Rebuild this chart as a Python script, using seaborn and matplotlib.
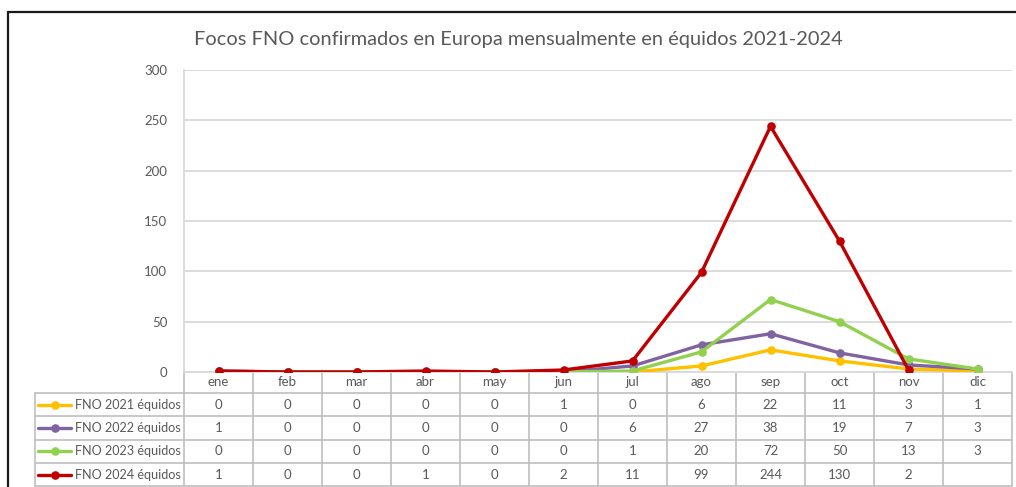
"""
Focos FNO confirmados en Europa mensualmente en équidos 2021-2024.
"""

import matplotlib

matplotlib.use("Agg")

import matplotlib.pyplot as plt
import numpy as np
import pandas as pd
import seaborn as sns
from matplotlib.lines import Line2D

MONTHS = ["ene", "feb", "mar", "abr", "may", "jun", "jul", "ago", "sep", "oct", "nov", "dic"]
SERIES = ["FNO 2021 équidos", "FNO 2022 équidos", "FNO 2023 équidos", "FNO 2024 équidos"]
FNO_2021 = [0, 0, 0, 0, 0, 1, 0, 6, 22, 11, 3, 1]
FNO_2022 = [1, 0, 0, 0, 0, 0, 6, 27, 38, 19, 7, 3]
FNO_2023 = [0, 0, 0, 0, 0, 0, 1, 20, 72, 50, 13, 3]
FNO_2024 = [1, 0, 0, 1, 0, 2, 11, 99, 244, 130, 2, np.nan]
COLORS = ["#FFC000", "#8064A2", "#92D050", "#C00000"]
Y_TICKS = [0, 50, 100, 150, 200, 250, 300]
TITLE = "Focos FNO confirmados en Europa mensualmente en équidos 2021-2024"

TEXT_COLOR = "#595959"
GRID_COLOR = "#D9D9D9"
TABLE_COLOR = "#BFBFBF"

sns.set_theme(style="white")
plt.rcParams["font.family"] = ["Lato", "DejaVu Sans"]

values = [FNO_2021, FNO_2022, FNO_2023, FNO_2024]
df = pd.DataFrame(
    {
        "mes": np.tile(np.arange(len(MONTHS)), len(SERIES)),
        "serie": np.repeat(SERIES, len(MONTHS)),
        "focos": np.concatenate([np.asarray(v, dtype=float) for v in values]),
    }
)

W, H = 1016, 487
fig = plt.figure(figsize=(W / 100, H / 100), dpi=100)
fig.patch.set_facecolor("white")

# plot area in pixels
px_left, px_right, px_top, px_bottom = 184, 1012, 70, 372
ax = fig.add_axes([px_left / W, 1 - px_bottom / H, (px_right - px_left) / W, (px_bottom - px_top) / H])

sns.lineplot(
    data=df.dropna(),
    x="mes",
    y="focos",
    hue="serie",
    hue_order=SERIES,
    palette=COLORS,
    marker="o",
    markersize=6.2,
    markeredgewidth=0,
    linewidth=2.4,
    sort=False,
    legend=False,
    ax=ax,
    zorder=3,
)

ax.set_xlim(-0.5, len(MONTHS) - 0.5)
ax.set_ylim(0, 300)
ax.set_yticks(Y_TICKS)
ax.set_yticklabels([str(t) for t in Y_TICKS])
ax.set_xticks(range(len(MONTHS)))
ax.set_xticklabels(MONTHS)
ax.tick_params(axis="y", length=0, pad=12, labelsize=9.5, labelcolor=TEXT_COLOR)
ax.tick_params(axis="x", length=0, pad=3, labelsize=9.5, labelcolor=TEXT_COLOR)
ax.set_xlabel("")
ax.set_ylabel("")
ax.yaxis.grid(True, color=GRID_COLOR, linewidth=1.3)
ax.set_axisbelow(True)
for side in ["top", "right"]:
    ax.spines[side].set_visible(False)
for side in ["left", "bottom"]:
    ax.spines[side].set_color(GRID_COLOR)
    ax.spines[side].set_linewidth(1.3)

# overlay in pixel coordinates for the data table and frame
ov = fig.add_axes([0, 0, 1, 1], zorder=-1)
ov.set_xlim(0, W)
ov.set_ylim(H, 0)
ov.axis("off")

col_w = (px_right - px_left) / len(MONTHS)
row_top = 393
row_h = 23.3
table_left = 35
table_bottom = row_top + row_h * len(SERIES)

for k in range(len(MONTHS) + 1):
    x = px_left + k * col_w
    ov.plot([x, x], [px_bottom, table_bottom], color=TABLE_COLOR, linewidth=1.2)
ov.plot([table_left, table_left], [row_top, table_bottom], color=TABLE_COLOR, linewidth=1.2)
for r in range(len(SERIES) + 1):
    y = row_top + r * row_h
    ov.plot([table_left, px_right], [y, y], color=TABLE_COLOR, linewidth=1.2)

for r, (name, vals, color) in enumerate(zip(SERIES, values, COLORS)):
    yc = row_top + (r + 0.5) * row_h
    ov.add_line(Line2D([38, 71], [yc, yc], color=color, linewidth=2.4))
    ov.plot([55], [yc], marker="o", markersize=6.2, color=color, markeredgewidth=0)
    ov.text(181, yc, name, ha="right", va="center", fontsize=9.1, color=TEXT_COLOR)
    for k, v in enumerate(vals):
        if np.isnan(v):
            continue
        ov.text(px_left + (k + 0.5) * col_w, yc, f"{int(v)}", ha="center", va="center",
                fontsize=9.5, color=TEXT_COLOR)

# chart frame
ov.plot([8, W], [12, 12], color="#1A1A1A", linewidth=1.6)
ov.plot([8, 8], [12, H], color="#1A1A1A", linewidth=1.6)

fig.text(518 / W, 1 - 40 / H, TITLE, ha="center", va="center", fontsize=14.4, color=TEXT_COLOR)

fig.savefig("out.png", dpi=100)
